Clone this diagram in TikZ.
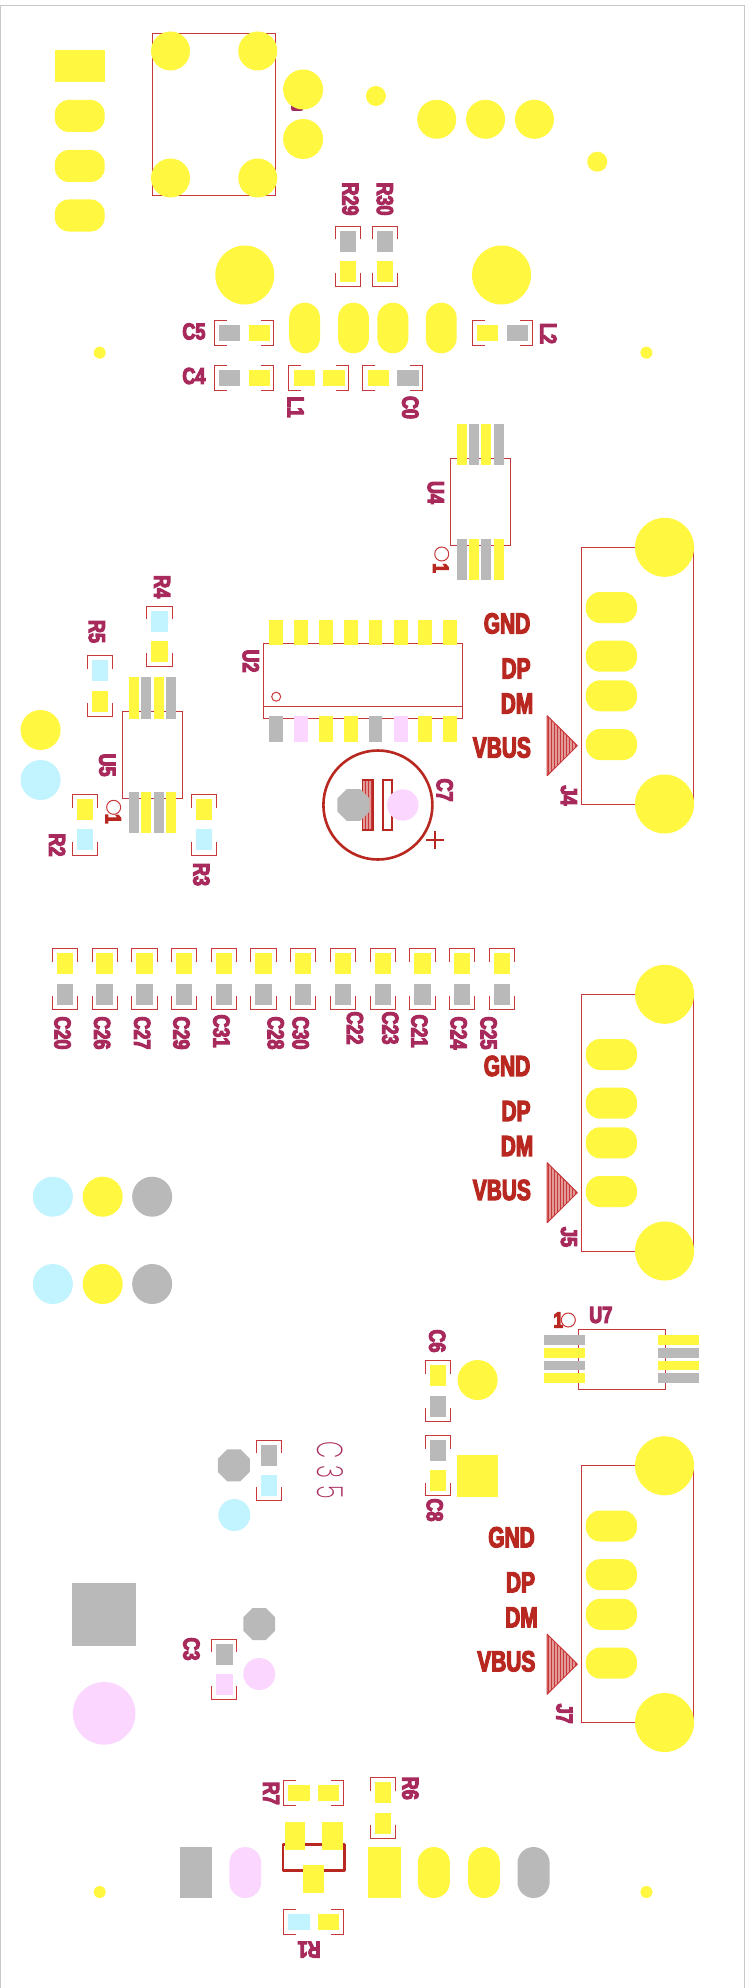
\documentclass[tikz,border=0pt]{standalone}
\usepackage{fontspec}
\usetikzlibrary{shapes.geometric}
\newfontfamily\labf[FakeStretch=0.78,FakeBold=5]{Liberation Sans Bold}
\newfontfamily\silf[FakeStretch=0.72,FakeBold=4]{Liberation Sans Bold}
\newfontfamily\thinf[FakeStretch=0.62]{Poppins ExtraLight}
\definecolor{pY}{HTML}{FFF740}
\definecolor{pG}{HTML}{B9B9B9}
\definecolor{pC}{HTML}{C1F4FF}
\definecolor{pP}{HTML}{FBD7FF}
\definecolor{oR}{HTML}{C8373A}
\definecolor{tR}{HTML}{B82820}
\definecolor{tM}{HTML}{A82A5C}
\definecolor{hR}{HTML}{E29A96}
\tikzset{
 brk/.style={oR,line width=1pt},
 outl/.style={oR,line width=1pt},
 thick red/.style={tR,line width=2.6pt},
 lab/.style={inner sep=0pt,text=tM,font=\labf\fontsize{23}{23}\selectfont},
 sil/.style={inner sep=0pt,text=tR,font=\silf\fontsize{29}{29}\selectfont},
 onemark/.style={inner sep=0pt,text=tR,font=\labf\fontsize{22}{22}\selectfont},
 octa/.style={regular polygon,regular polygon sides=8,minimum size=34.6pt,inner sep=0pt,fill=pG},
}
\newcommand{\prect}[5]{\fill[#5] (#1,#2) rectangle (#3,#4);}
\newcommand{\pobl}[6]{\fill[#5,rounded corners=#6pt] (#1,#2) rectangle (#3,#4);}
\newcommand{\pcirc}[4]{\fill[#4] (#1,#2) circle[radius=#3pt];}
\newcommand{\lbl}[5][lab]{\node[#1,rotate=#4] (n#5) at (#2,#3) {#5};}
\newcommand{\vfp}[4]{\begin{scope}[shift={(#1,#2)}]
 \draw[brk] (-12.65,-17) -- (-12.65,-30.3) -- (12.65,-30.3) -- (12.65,-17);
 \draw[brk] (-12.65,17) -- (-12.65,30.3) -- (12.65,30.3) -- (12.65,17);
 \fill[#3] (-8.25,-25.6) rectangle (8.25,-4.6);
 \fill[#4] (-8.25,4.6) rectangle (8.25,25.6);
\end{scope}}
\newcommand{\hfp}[4]{\begin{scope}[shift={(#1,#2)}]
 \draw[brk] (-17.5,-12.65) -- (-30,-12.65) -- (-30,12.65) -- (-17.5,12.65);
 \draw[brk] (17.5,-12.65) -- (30,-12.65) -- (30,12.65) -- (17.5,12.65);
 \fill[#3] (-25.2,-8) rectangle (-4,8);
 \fill[#4] (4.6,-8) rectangle (26,8);
\end{scope}}
\newcommand{\soic}[2]{\begin{scope}[shift={(#1,#2)}]
 \draw[outl] (-29.9,-43.5) rectangle (29.9,43.5);
 \foreach \x/\c in {-18.6/pY,-6/pG,6.2/pY,18.9/pG}{\fill[\c] (\x-5,-77.8) rectangle (\x+5,-36.5);}
 \foreach \x/\c in {-18.6/pG,-6/pY,6.2/pG,18.9/pY}{\fill[\c] (\x-5,36.9) rectangle (\x+5,78.2);}
\end{scope}}
\newcommand{\usbj}[4]{\begin{scope}[shift={(0,#2)}]
 \draw[outl] (583.3,547.3) rectangle (695.2,804);
 \fill[hR] (548.8,715.7) -- (579,745.7) -- (548.8,775.7) -- cycle;
 \begin{scope}
  \clip (548.8,715.7) -- (579,745.7) -- (548.8,775.7) -- cycle;
  \foreach \x in {550,553,...,580}{\draw[oR,line width=1pt] (\x,715) -- (\x,776);}
 \end{scope}
 \draw[outl,line join=round] (548.8,715.7) -- (579,745.7) -- (548.8,775.7) -- cycle;
 \pcirc{666.5}{547.3}{29.5}{pY}
 \pcirc{666.5}{804}{29.5}{pY}
 \pobl{587.6}{592}{638.8}{623}{pY}{14}
 \pobl{587.6}{640.7}{638.8}{671.7}{pY}{14}
 \pobl{587.6}{680.3}{638.8}{711.3}{pY}{14}
 \pobl{587.6}{729}{638.8}{760}{pY}{14}
\end{scope}
\begin{scope}[shift={(#4,#3)}]
 \node[sil] (#1gnd) at (508.5,623.5) {GND};
 \node[sil] (#1dp) at (517.5,668.5) {DP};
 \node[sil] (#1dm) at (518.5,703.5) {DM};
 \node[sil] (#1vbus) at (503.3,747.5) {VBUS};
\end{scope}}
\begin{document}
\begin{tikzpicture}[x=0.9971pt,y=-1pt]
\useasboundingbox (0,0) rectangle (750.18,1988);
\fill[white] (0,0) rectangle (750.18,1988);
% board edge
\draw[color={rgb,255:red,200;green,200;blue,200},line width=1pt] (0.5,1988) -- (0.5,5.5) -- (747,5.5) -- (747,1988);
% top connector
\prect{55}{50}{105}{82}{pY}
\pobl{55}{100}{105}{132}{pY}{14}
\pobl{55}{150}{105}{182}{pY}{14}
\pobl{55}{199.5}{105}{231.5}{pY}{14}
\draw[outl] (153,33.5) rectangle (276.5,196);
\pcirc{171}{51}{19.5}{pY}
\pcirc{258.5}{51}{19.5}{pY}
\pcirc{171}{178}{19.5}{pY}
\pcirc{258.5}{178}{19.5}{pY}
\fill[tM,rounded corners=2pt] (292,103) rectangle (304,111);
\pcirc{304}{89.5}{20}{pY}
\pcirc{304}{139}{20}{pY}
\pcirc{377}{96}{10}{pY}
\pcirc{438}{119.3}{19.5}{pY}
\pcirc{487}{119.3}{19.5}{pY}
\pcirc{536}{119.3}{19.5}{pY}
\pcirc{599}{161.7}{10}{pY}
\lbl{351.5}{199}{-90}{R29}
\lbl{386}{199}{-90}{R30}
\vfp{349}{256.3}{pG}{pY}
\vfp{386.3}{256.3}{pG}{pY}
\pcirc{245.5}{275}{29.5}{pY}
\pcirc{503}{275}{29.5}{pY}
\pobl{290}{302.7}{321}{353.3}{pY}{15.5}
\pobl{339}{302.7}{370}{353.3}{pY}{15.5}
\pobl{378.5}{302.7}{409.5}{353.3}{pY}{15.5}
\pobl{427}{302.7}{458}{353.3}{pY}{15.5}
\pcirc{100}{352.7}{6}{pY}
\pcirc{648.3}{352.7}{6}{pY}
\hfp{244.7}{333.3}{pG}{pY}
\hfp{244.7}{378}{pG}{pY}
\hfp{319.6}{378}{pY}{pY}
\hfp{394}{378}{pY}{pG}
\hfp{503.8}{333.3}{pY}{pG}
\lbl{194.5}{331.5}{0}{C5}
\lbl{194.5}{376}{0}{C4}
\lbl{550}{333.5}{-90}{L2}
\lbl{296.5}{407}{-90}{L1}
\lbl{411.5}{407.5}{-90}{C0}
% U4
\soic{481.6}{501.8}
\draw[outl] (443,554) circle[radius=7pt];
\node[onemark,rotate=-90] (mark4) at (442,568) {1};
\lbl{437}{492.5}{-90}{U4}
% U5
\soic{152.9}{755}
\draw[outl] (114,807.3) circle[radius=7pt];
\node[onemark,rotate=-90] (mark5) at (113.5,818.7) {1};
\lbl{107.5}{765}{-90}{U5}
\vfp{160}{636.3}{pC}{pY}
\lbl{162.5}{586.7}{-90}{R4}
\vfp{100.2}{686}{pC}{pY}
\lbl{97}{631.5}{-90}{R5}
\vfp{85}{824.8}{pY}{pC}
\lbl{57.3}{845}{-90}{R2}
\vfp{204.7}{824.8}{pY}{pC}
\lbl{202}{874.5}{-90}{R3}
\pcirc{40.7}{730}{20}{pY}
\pcirc{40.7}{780}{20}{pC}
% U2
\draw[outl] (264.6,643.3) rectangle (464,718.3);
\draw[outl] (264.6,706) -- (464,706);
\draw[outl] (277,696.7) circle[radius=4.5pt];
\foreach \x in {277,302,326.8,351.7,376.6,402,426.3,451.7}{\fill[pY] (\x-7,620) rectangle (\x+7,645);}
\foreach \x/\c in {277/pG,302/pP,326.8/pY,351.7/pY,376.6/pG,402/pP,426.3/pY,451.7/pY}{\fill[\c] (\x-7,716) rectangle (\x+7,742);}
\lbl{251.5}{661}{-90}{U2}
% C7
\draw[thick red] (379,805) circle[radius=54.5pt];
\fill[hR] (363.6,780) rectangle (374,830);
\begin{scope}
 \clip (363.6,780) rectangle (374,830);
 \foreach \x in {364,367,...,375}{\draw[oR,line width=1pt] (\x,780) -- (\x,830);}
\end{scope}
\draw[tR,line width=1.4pt] (363.6,780) rectangle (374,830);
\draw[thick red,line width=2.2pt] (384,780) rectangle (393.5,830);
\node[octa] (c7gnd) at (354.5,805) {};
\pcirc{404}{805}{15.7}{pP}
\draw[tR,line width=2.2pt] (427.5,840) -- (445.5,840);
\draw[tR,line width=2.2pt] (436.4,831) -- (436.4,849);
\lbl{446}{790}{-90}{C7}
% USB connectors
\usbj{a}{0}{0}{0}
\lbl{570.5}{795.5}{-90}{J4}
\usbj{b}{447}{442.5}{0}
\lbl{570.5}{1237}{-90}{J5}
\usbj{c}{918.5}{913.8}{4.5}
\lbl{566}{1713.7}{-90}{J7}
% C row
\foreach \x in {65.3,105,145,184.7,224.7,264.3,304,344,384,423.7,463.6,503.5}{\vfp{\x}{979}{pY}{pG}}
\lbl{62.7}{1033}{-90}{C20}
\lbl{102.4}{1033}{-90}{C26}
\lbl{142.6}{1033}{-90}{C27}
\lbl{182}{1033}{-90}{C29}
\lbl{222}{1031}{-90}{C31}
\lbl{276.5}{1033}{-90}{C28}
\lbl{301.5}{1033}{-90}{C30}
\lbl{356}{1028}{-90}{C22}
\lbl{391.4}{1028}{-90}{C23}
\lbl{420.6}{1031}{-90}{C21}
\lbl{460}{1033}{-90}{C24}
\lbl{490}{1033}{-90}{C25}
% dots
\pcirc{53}{1196.7}{20}{pC}
\pcirc{103}{1196.7}{20}{pY}
\pcirc{152.6}{1196.7}{20}{pG}
\pcirc{53}{1284}{20}{pC}
\pcirc{103}{1284}{20}{pY}
\pcirc{152.6}{1284}{20}{pG}
% U7
\draw[outl] (580,1329.3) rectangle (667,1389.3);
\foreach \y/\c in {1335.3/pG,1348/pY,1360.7/pG,1373/pY}{\fill[\c] (545.5,\y) rectangle (586.7,\y+9.6);}
\foreach \y/\c in {1335.3/pY,1348/pG,1360.7/pY,1373/pG}{\fill[\c] (659.8,\y) rectangle (701,\y+9.6);}
\draw[outl] (570,1320) circle[radius=7pt];
\node[onemark] (mark7) at (560,1320) {1};
\lbl{602.5}{1315}{0}{U7}
% C6, C8
\vfp{439}{1391}{pY}{pG}
\lbl{438.5}{1341}{-90}{C6}
\pcirc{479}{1380}{20}{pY}
\vfp{439}{1465.5}{pG}{pY}
\lbl{436}{1510}{-90}{C8}
\prect{458.4}{1455.3}{499.5}{1497}{pY}
% C35
\vfp{270}{1470.3}{pG}{pC}
\node[octa] (c35gnd) at (234.5,1465.3) {};
\pcirc{235}{1515}{16}{pC}
\node[inner sep=0pt,text=tM,rotate=-90,font=\thinf\fontsize{36}{36}\selectfont] (nC35) at (331,1470.3) {C\hspace{6pt}3\hspace{7pt}5};
% lower left
\prect{72.7}{1583}{136}{1645.7}{pG}
\pcirc{104.5}{1713.3}{31.3}{pP}
\node[octa] (c3gnd) at (260,1624) {};
\pcirc{260}{1674}{16}{pP}
\vfp{225}{1669.3}{pG}{pP}
\lbl{192}{1649}{-90}{C3}
% bottom group
\hfp{314.4}{1793}{pY}{pY}
\lbl{272}{1793.3}{-90}{R7}
\vfp{384}{1808}{pY}{pY}
\lbl{411.5}{1788.3}{-90}{R6}
\hfp{314.4}{1922}{pC}{pY}
\lbl{310}{1949.5}{180}{R1}
\draw[thick red,line join=round] (284,1844.7) rectangle (345.2,1870.3);
\prect{285.6}{1822}{305.7}{1850}{pY}
\prect{323}{1822}{343.5}{1850}{pY}
\prect{303.8}{1865}{324.9}{1893}{pY}
\prect{180.4}{1847}{212.4}{1898}{pG}
\pobl{230}{1847}{262}{1898}{pP}{16}
\prect{369.4}{1847}{402.4}{1898}{pY}
\pobl{419}{1847}{451.2}{1898}{pY}{16}
\pobl{469.4}{1847}{501.4}{1898}{pY}{16}
\pobl{519}{1847}{551.2}{1898}{pG}{16}
\pcirc{100}{1892}{6}{pY}
\pcirc{648.3}{1892}{6}{pY}
\end{tikzpicture}
\end{document}
